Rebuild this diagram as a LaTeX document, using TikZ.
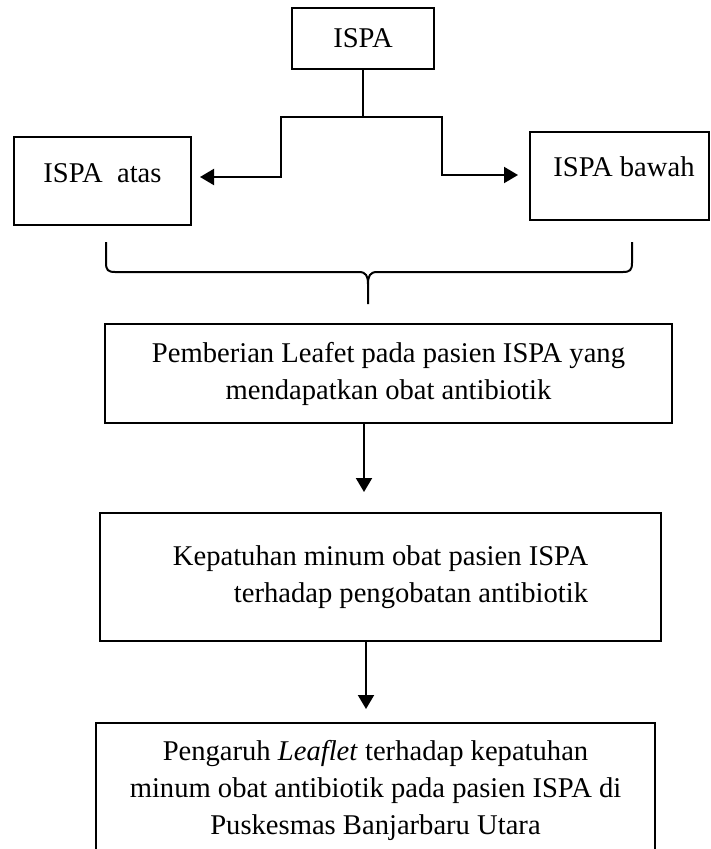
\documentclass[tikz,border=0pt]{standalone}
\usepackage{fontspec}
\setmainfont{Liberation Serif}
\usetikzlibrary{arrows.meta}
\begin{document}
\begin{tikzpicture}[x=1pt,y=-1pt,
  box/.style={draw, line width=2pt, inner sep=0pt, align=center,
    font=\fontsize{28.6}{37}\selectfont},
  conn/.style={line width=2pt},
  arr/.style={conn, -{Triangle[length=14pt,width=16pt]}}]
\useasboundingbox (0,0) rectangle (710,849);
\clip (0,0) rectangle (710,849);

% boxes
\node[box, minimum width=142pt, minimum height=61pt] (ispa) at (363,38.5) {ISPA};
\node[box, minimum width=177pt, minimum height=88pt] (atas) at (102.5,181)
  {\raisebox{8pt}[\height][\depth]{ISPA\ \ atas}};
\node[box, minimum width=179pt, minimum height=88pt] (bawah) at (619.5,176)
  {\hspace*{9pt}\raisebox{9pt}[\height][\depth]{ISPA bawah}};
\node[box, minimum width=567pt, minimum height=99pt] (pemb) at (388.5,373.5)
  {Pemberian Leafet pada pasien ISPA yang\\ mendapatkan obat antibiotik};
\node[box, align=right, minimum width=561pt, minimum height=128pt] (kep) at (380.5,577)
  {Kepatuhan minum obat pasien ISPA\\ terhadap pengobatan antibiotik};
\node[box, minimum width=559pt, minimum height=134pt] (lb) at (375.5,790)
  {Pengaruh \textit{Leaflet} terhadap kepatuhan\\ minum obat antibiotik pada pasien ISPA di\\ Puskesmas Banjarbaru Utara};

% branching connector
\coordinate (jl) at (281,117);
\coordinate (jr) at (442,117);
\coordinate (jm) at (ispa.south |- jl);
\coordinate (ta) at (0,177);
\coordinate (tb) at (0,175);
\draw[conn] (ispa.south) -- (jm);
\draw[arr, shorten >=8pt] (jm) -- (jl) |- (atas.east |- ta);
\draw[arr, shorten >=11pt] (jm) -- (jr) |- (bawah.west |- tb);

% brace
\draw[conn, line join=round]
  (106,242) -- (106,263) .. controls (106,270) and (108,272) .. (115,272)
  -- (359,272) .. controls (366,272) and (368,276) .. (368,284) -- (368,304);
\draw[conn, line join=round]
  (632,242) -- (632,263) .. controls (632,270) and (630,272) .. (623,272)
  -- (377,272) .. controls (370,272) and (368,276) .. (368,284);

% down arrows
\coordinate (a1) at (364,0);
\coordinate (a2) at (366,0);
\draw[arr, shorten >=20pt] (pemb.south -| a1) -- (kep.north -| a1);
\draw[arr, shorten >=13pt] (kep.south -| a2) -- (lb.north -| a2);
\end{tikzpicture}
\end{document}
